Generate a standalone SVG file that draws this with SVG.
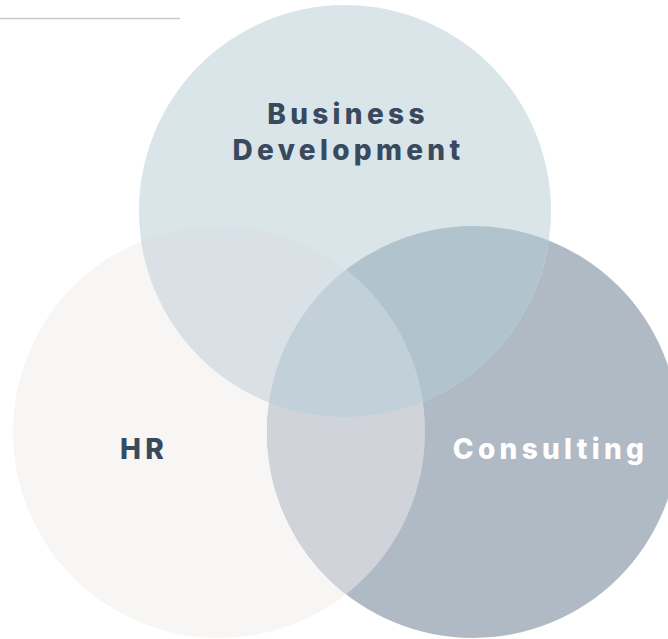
<svg xmlns="http://www.w3.org/2000/svg" width="668" height="639" viewBox="0 0 668 639">
  <style>
    .label { font-family: "Inter", "Liberation Sans", sans-serif; font-weight: 800; font-size: 28px; letter-spacing: 4.3px; text-anchor: middle; }
    .dark { fill: #3a4a5e; }
    .light { fill: #ffffff; }
  </style>
  <defs>
    <clipPath id="clipT"><circle cx="345" cy="211" r="206"/></clipPath>
    <clipPath id="clipL"><circle cx="219" cy="432" r="206"/></clipPath>
    <clipPath id="clipR"><circle cx="473" cy="432" r="206"/></clipPath>
  </defs>
  <rect width="668" height="639" fill="#ffffff"/>
  <!-- short rule at the top left -->
  <line x1="0" y1="18.5" x2="180" y2="18.5" stroke="#c9c9c9" stroke-width="1.5"/>

  <g id="hr">
    <circle cx="219" cy="432" r="206" fill="#f7f6f5"/>
  </g>
  <g id="consulting">
    <circle cx="473" cy="432" r="206" fill="#b0bac5"/>
  </g>
  <g id="business-development">
    <circle cx="345" cy="211" r="206" fill="#dae5ea"/>
  </g>

  <!-- overlap areas -->
  <g id="overlaps">
    <circle cx="345" cy="211" r="206" fill="#d9e1e7" clip-path="url(#clipL)"/>
    <circle cx="345" cy="211" r="206" fill="#b1c4ce" clip-path="url(#clipR)"/>
    <circle cx="219" cy="432" r="206" fill="#d0d4da" clip-path="url(#clipR)"/>
    <g clip-path="url(#clipR)">
      <circle cx="345" cy="211" r="206" fill="#c2d1d9" clip-path="url(#clipL)"/>
    </g>
  </g>

  <g id="labels">
    <text class="label dark" x="348" y="124">Business</text>
    <text class="label dark" x="348.5" y="160">Development</text>
    <text class="label dark" x="144" y="459">HR</text>
    <text class="label light" x="550.5" y="459">Consulting</text>
  </g>
  <g id="connectors"/>
</svg>
